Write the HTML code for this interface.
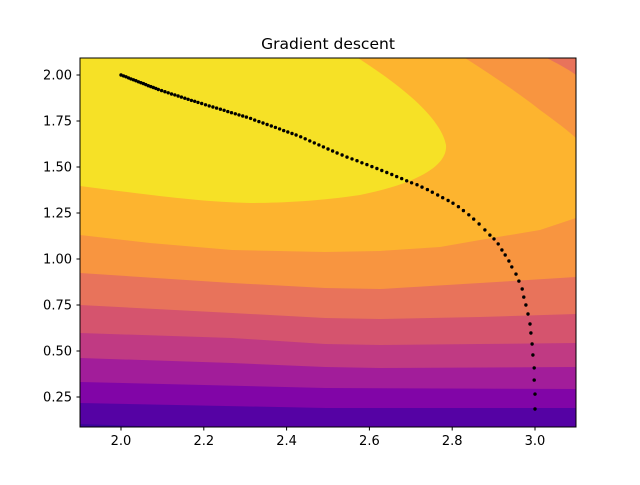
<!DOCTYPE html>
<html><head><meta charset="utf-8"><style>
body{margin:0;background:#fff;}
svg text{font-family:"DejaVu Sans","Liberation Sans",sans-serif;fill:#000;}
</style></head><body>
<svg id="chart" width="640" height="480" viewBox="0 0 640 480" xmlns="http://www.w3.org/2000/svg">
<rect width="640" height="480" fill="#fff"/>
<text x="328" y="49" font-size="15.5" text-anchor="middle">Gradient descent</text>
<defs><clipPath id="pc"><rect x="80" y="58" width="496" height="369"/></clipPath></defs>
<g id="contours" clip-path="url(#pc)"></g>
<g id="path" clip-path="url(#pc)"></g>
<rect x="80" y="58" width="496" height="369" fill="none" stroke="#000" stroke-width="1"/>
<g id="axes"></g>
</svg>
<script>
// descent path values (data units)
const pathX = [2.000,2.006,2.012,2.018,2.024,2.030,2.036,2.042,2.048,2.054,2.060,2.066,2.072,2.078,2.084,2.090,
2.098,2.106,2.114,2.122,2.130,2.138,2.146,2.154,2.162,2.170,2.178,2.186,
2.195,2.204,2.213,2.222,2.231,2.240,2.249,2.258,2.267,2.276,2.285,2.294,2.303,
2.313,2.323,2.333,2.343,2.353,2.363,2.373,2.383,2.393,2.403,2.413,2.423,
2.434,2.445,2.456,2.467,2.478,2.489,2.500,2.511,2.522,
2.534,2.546,2.558,2.570,2.582,2.594,2.606,2.618,2.630,2.642,2.654,2.666,2.678,2.690,2.702,
2.715,2.727,2.740,2.752,2.765,2.777,2.790,2.802,2.815,2.827,2.840,2.852,2.865,
2.879,2.891,2.901,2.911,2.920,2.928,2.937,2.944,2.954,2.961,2.969,2.973,2.978,2.983,2.988,2.990,2.993,2.995,2.998,2.998,3.000,3.000];
const pathY = [2.000,1.995,1.990,1.984,1.979,1.974,1.969,1.963,1.958,1.953,1.948,1.942,1.937,1.932,1.927,1.921,
1.915,1.909,1.903,1.897,1.892,1.886,1.880,1.874,1.868,1.862,1.857,1.851,
1.845,1.838,1.832,1.826,1.820,1.814,1.808,1.801,1.795,1.789,1.783,1.777,1.771,
1.764,1.755,1.747,1.739,1.731,1.723,1.715,1.707,1.698,1.690,1.682,1.674,
1.664,1.653,1.642,1.631,1.620,1.609,1.598,1.587,1.576,
1.565,1.554,1.544,1.534,1.523,1.513,1.502,1.492,1.481,1.470,1.459,1.448,1.437,1.425,1.414,
1.404,1.391,1.377,1.363,1.348,1.333,1.318,1.303,1.284,1.263,1.240,1.217,1.190,
1.158,1.130,1.109,1.082,1.049,1.022,0.989,0.957,0.918,0.880,0.837,0.793,0.750,0.701,0.647,0.598,0.538,0.478,0.408,0.342,0.266,0.185];
const xTicks = [2.0,2.2,2.4,2.6,2.8,3.0];
const xTickLabels = ["2.0","2.2","2.4","2.6","2.8","3.0"];
const yTicks = [0.25,0.5,0.75,1.0,1.25,1.5,1.75,2.0];
const yTickLabels = ["0.25","0.50","0.75","1.00","1.25","1.50","1.75","2.00"];

const sx = v => 121 + (v - 2) * 414;
const sy = v => 75 + (2 - v) * 184;
const NS = "http://www.w3.org/2000/svg";
function mk(tag, parent){const e=document.createElementNS(NS,tag);parent.appendChild(e);return e;}

// contour bands (pixel geometry of the background shading)
const cg = document.getElementById('contours');
const base = mk('rect', cg);


base.setAttribute('x',80);base.setAttribute('y',58);base.setAttribute('width',496);base.setAttribute('height',369);base.setAttribute('fill','#3b049a');
const dk = mk('polygon', cg);


dk.setAttribute('points','80,58 576,58 576,440 300,440 200,428 80,424');
dk.setAttribute('fill','#5502a4');
const bands = [
 ['#8105a7',[[80,403],[325,408],[576,408]]],
 ['#a21d9a',[[80,382],[325,388],[576,389]]],
 ['#c03a83',[[80,358],[232,363],[325,367],[380,368],[576,367]]],
 ['#d5546e',[[80,333],[232,338],[325,344],[380,345],[480,344],[576,343]]],
 ['#e8735b',[[80,305],[232,313],[325,318],[380,319],[480,317],[576,314]]],
 ['#f89540',[[80,273],[232,283],[325,288],[380,289],[480,283],[576,277]]],
 ['#fdb42f',[[80,235],[150,243],[232,250],[325,252],[380,251],[440,247],[480,240],[540,230],[576,218]]]
];
bands.forEach((b,i)=>{
  const p = mk('polygon', cg);
  
  
  p.setAttribute('points', [[80,58]].concat(b[1]).concat([[576,58]]).map(q=>q.join(',')).join(' '));
  p.setAttribute('fill', b[0]);
});
const yel = mk('path', cg);


yel.setAttribute('d','M80,58 L358,58 C395,82 440,115 446,145 C448,168 410,185 360,195 C320,201 280,203 250,203 C200,202 150,195 80,186 Z');
yel.setAttribute('fill','#f6e126');
const tr1 = mk('path', cg);


tr1.setAttribute('d','M465,58 C490,74 520,94 540,110 C555,121 566,129 576,138 L576,58 Z');
tr1.setAttribute('fill','#f89540');
const tr2 = mk('path', cg);


tr2.setAttribute('d','M547,58 C558,64 568,69 576,75 L576,58 Z');
tr2.setAttribute('fill','#e8735b');

// path dots
const pg = document.getElementById('path');
for(let i=0;i<pathX.length;i++){
  const c = mk('circle', pg);
  
  
  c.setAttribute('cx', sx(pathX[i]).toFixed(1));
  c.setAttribute('cy', sy(pathY[i]).toFixed(1));
  c.setAttribute('r', 1.7);
  c.setAttribute('fill','#000');
}

// axes
const ag = document.getElementById('axes');
xTicks.forEach((v,i)=>{
  const l = mk('line', ag);
  
  
  l.setAttribute('x1',sx(v));l.setAttribute('x2',sx(v));l.setAttribute('y1',427);l.setAttribute('y2',430.5);l.setAttribute('stroke','#000');
  const t = mk('text', ag);
  
  
  t.setAttribute('x',sx(v));t.setAttribute('y',445);t.setAttribute('font-size','13');t.setAttribute('text-anchor','middle');
  t.textContent = xTickLabels[i];
});
yTicks.forEach((v,i)=>{
  const l = mk('line', ag);
  
  
  l.setAttribute('x1',76.5);l.setAttribute('x2',80);l.setAttribute('y1',sy(v));l.setAttribute('y2',sy(v));l.setAttribute('stroke','#000');
  const t = mk('text', ag);
  
  
  t.setAttribute('x',72);t.setAttribute('y',sy(v)+4.5);t.setAttribute('font-size','13');t.setAttribute('text-anchor','end');
  t.textContent = yTickLabels[i];
});
</script>
</body></html>
